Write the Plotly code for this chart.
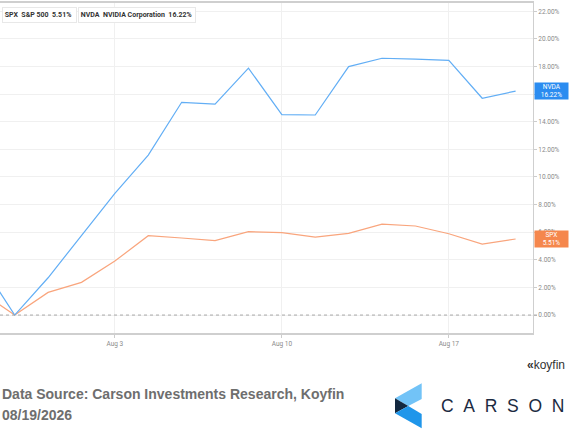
import plotly.graph_objects as go

# Daily % change since Jul 29
dates = ["2026-07-28", "2026-07-29", "2026-07-30", "2026-07-31",
         "2026-08-03", "2026-08-04", "2026-08-05", "2026-08-06", "2026-08-07",
         "2026-08-10", "2026-08-11", "2026-08-12", "2026-08-13", "2026-08-14",
         "2026-08-17", "2026-08-18", "2026-08-19"]
nvda = [3.74, 0.0, 2.70, 5.77, 8.82, 11.59, 15.41, 15.27, 17.88,
        14.51, 14.49, 17.99, 18.60, 18.53, 18.45, 15.70, 16.22]
spx = [1.64, 0.0, 1.64, 2.37, 3.91, 5.75, 5.58, 5.39, 6.04,
       5.97, 5.65, 5.92, 6.59, 6.45, 5.89, 5.14, 5.51]

x_tickvals = ["2026-08-03", "2026-08-10", "2026-08-17"]
x_ticktext = ["Aug 3", "Aug 10", "Aug 17"]
y_tickvals = [0, 2, 4, 6, 8, 10, 12, 14, 16, 18, 20, 22]
y_ticktext = ["%.2f%%" % v for v in y_tickvals]

NVDA_LINE = "#62aef5"
NVDA_TAG = "#2b8cf0"
SPX_LINE = "#f9a57d"
SPX_TAG = "#f5874d"

# pixel -> paper helpers (plot area spans x 0..533, y 3..333)
def px(x):
    return x / 533.0

def py(y):
    return (333.0 - y) / 330.0

fig = go.Figure()
fig.add_trace(go.Scatter(x=dates, y=spx, mode="lines", name="SPX",
                         line=dict(color=SPX_LINE, width=1.2)))
fig.add_trace(go.Scatter(x=dates, y=nvda, mode="lines", name="NVDA",
                         line=dict(color=NVDA_LINE, width=1.2)))

tick_font = dict(family="Roboto, Arial", size=6.5, color="#8a8a8a")

fig.update_layout(
    width=576, height=443,
    margin=dict(l=0, r=43, t=3, b=110),
    paper_bgcolor="white", plot_bgcolor="white",
    showlegend=False,
    xaxis=dict(
        range=["2026-07-28 13:26", "2026-08-19 12:30"],
        rangebreaks=[dict(bounds=["sat", "mon"])],
        tickvals=x_tickvals, ticktext=x_ticktext,
        tickfont=tick_font,
        ticks="outside", ticklen=3, tickcolor="#cccccc",
        showgrid=True, gridcolor="#f0f0f0", gridwidth=1,
        showline=True, linecolor="#cfcfcf", linewidth=1.5, mirror=True,
        zeroline=False,
    ),
    yaxis=dict(
        range=[-1.3, 22.6], side="right",
        tickvals=y_tickvals, ticktext=y_ticktext,
        tickfont=tick_font,
        ticks="outside", ticklen=3, tickcolor="#cccccc",
        showgrid=True, gridcolor="#f0f0f0", gridwidth=1,
        showline=True, linecolor="#cfcfcf", linewidth=1,
        zeroline=False,
    ),
)

shapes = []
# dotted zero line running into the tick
shapes.append(dict(type="line", xref="paper", yref="y", x0=0, x1=px(537), y0=0, y1=0,
                   line=dict(color="#a8a8a8", width=1, dash="dot")))

annotations = []
# legend chips at top left
legend_items = [
    ("SPX", "S&amp;P 500", spx[-1], SPX_TAG, 1.7, 73),
    ("NVDA", "NVIDIA Corporation", nvda[-1], NVDA_TAG, 78, 116),
]
for tick, name, last, col, x0, w in legend_items:
    annotations.append(dict(
        xref="paper", yref="paper", x=px(x0), y=py(14.7), xanchor="left", yanchor="middle",
        text="\u00a0<b>%s</b>  <b>%s</b>  <b>%.2f%%</b>" % (tick, name, last),
        showarrow=False, align="left", width=w, height=14,
        bgcolor="white", bordercolor="#e8e8e8", borderwidth=1, borderpad=0,
        font=dict(family="Roboto, Arial", size=7, color="#333333"),
    ))
    shapes.append(dict(type="rect", xref="paper", yref="paper",
                       x0=px(x0 + 0.5), x1=px(x0 + 2), y0=py(21.5), y1=py(8),
                       fillcolor=col, line=dict(width=0)))

# last-value tags on the right axis
for tick, last, col in [("NVDA", nvda[-1], NVDA_TAG), ("SPX", spx[-1], SPX_TAG)]:
    annotations.append(dict(
        xref="paper", yref="y", x=px(534), y=last, xanchor="left", yanchor="middle",
        text="%s<br>%.2f%%" % (tick, last), showarrow=False,
        width=32, height=15, bgcolor=col, borderpad=0.5,
        font=dict(family="Roboto, Arial", size=6.5, color="white"),
    ))

# footer
annotations.append(dict(
    xref="paper", yref="paper", x=0, y=py(404), xanchor="left", yanchor="bottom",
    text="<b>Data Source: Carson Investments Research, Koyfin</b>",
    showarrow=False, font=dict(family="Arial", size=14, color="#6e6e6e"),
))
annotations.append(dict(
    xref="paper", yref="paper", x=0, y=py(405), xanchor="left", yanchor="top",
    text="<b>08/19/2026</b>",
    showarrow=False, font=dict(family="Arial", size=14, color="#6e6e6e"),
))
annotations.append(dict(
    xref="paper", yref="paper", x=px(567), y=py(365), xanchor="right", yanchor="middle",
    text="<b>\u00ab</b>koyfin", showarrow=False,
    font=dict(family="Arial", size=12, color="#333333"),
))
annotations.append(dict(
    xref="paper", yref="paper", x=px(439), y=py(406), xanchor="left", yanchor="middle",
    text="\u00a0\u00a0".join("CARSON"), showarrow=False,
    font=dict(family="Arial", size=17.5, color="#1b2a41"),
))

# Carson chevron logo
def poly(pts):
    return "M " + " L ".join("%f,%f" % (px(a), py(b)) for a, b in pts) + " Z"

logo = [
    ([(395, 398.3), (421.7, 383.3), (421.7, 399), (408.3, 406)], "#72c3f7"),
    ([(395, 398.3), (408.3, 406), (395, 413.3)], "#13283f"),
    ([(395, 413.3), (408.3, 406), (421.7, 414), (421.7, 428.3)], "#1f96ea"),
]
for pts, col in logo:
    shapes.append(dict(type="path", xref="paper", yref="paper", path=poly(pts),
                       fillcolor=col, line=dict(width=0)))

fig.update_layout(shapes=shapes, annotations=annotations)
# page body has a default 8px margin; drop it so the figure sits at the window corner
fig.write_html("out.html", config={"displayModeBar": False},
               post_script="document.body.style.margin='0px';")
